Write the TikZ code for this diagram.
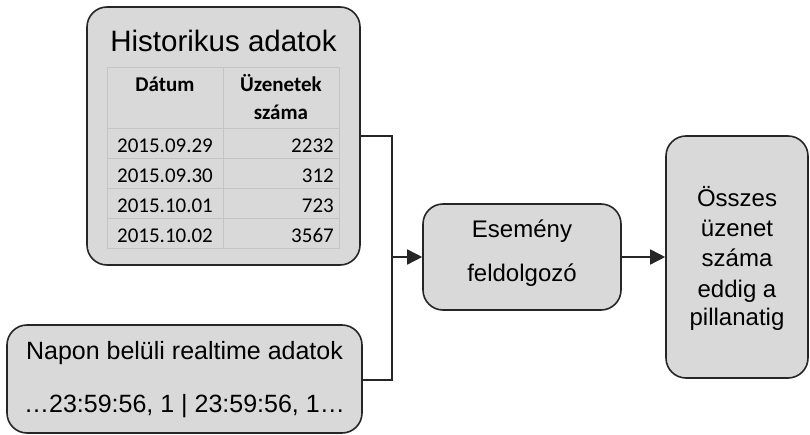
\documentclass[tikz,border=0pt]{standalone}
\usepackage{fontspec}
\setmainfont{Liberation Sans}
\newfontfamily\tablefont{Carlito}
\usetikzlibrary{arrows.meta}
\definecolor{boxfill}{HTML}{D9D9D9}
\definecolor{boxline}{HTML}{262626}
\definecolor{gridline}{HTML}{C4C4C4}
\tikzset{
  x=1pt, y=-1pt,
  panel/.style={draw=boxline, fill=boxfill, line width=1.6pt, rounded corners=20pt},
  cell/.style={draw=gridline, line width=1pt},
  label/.style={anchor=base, inner sep=0pt, font=\fontsize{24}{28}\selectfont},
  tabtext/.style={anchor=base, inner sep=0pt, font=\tablefont\fontsize{21}{25}\selectfont},
  tabhead/.style={tabtext, font=\tablefont\bfseries\fontsize{21}{25}\selectfont},
  link/.style={draw=boxline, line width=1.6pt},
  flow/.style={link, -{Triangle[length=15pt,width=15pt]}},
}
\begin{document}
\begin{tikzpicture}
\useasboundingbox (0,0) rectangle (810,435);

% --- boxes ---
\node[panel, minimum width=273pt, minimum height=258pt] (hist) at (223.5,136) {};
\node[panel, minimum width=355pt, minimum height=108pt] (rt) at (184.5,379) {};
\node[panel, minimum width=198pt, minimum height=106pt] (proc) at (522,257) {};
\node[panel, minimum width=142pt, minimum height=242pt] (total) at (737,257) {};

% --- historical data table ---
\foreach \ya/\yb in {68/129,129/159,159/189,189/219,219/249}{
  \draw[cell] (107,\ya) rectangle (223,\yb);
  \draw[cell] (223,\ya) rectangle (339,\yb);
}
\node[label, font=\fontsize{29.5}{34}\selectfont] (htitle) at (223.5,52) {Historikus adatok};
\node[tabhead] (hdate) at (165,92) {Dátum};
\node[tabhead] (hcnt1) at (281,92) {Üzenetek};
\node[tabhead] (hcnt2) at (281,120) {száma};
\foreach \d/\n/\y in {2015.09.29/2232/153, 2015.09.30/312/183, 2015.10.01/723/213, 2015.10.02/3567/243}{
  \node[tabtext] at (165,\y) {\d};
  \node[tabtext, anchor=base east] at (334,\y) {\n};
}

% --- realtime stream ---
\node[label, font=\fontsize{25}{30}\selectfont] (rttitle) at (184.5,359) {Napon belüli realtime adatok};
\node[label, font=\fontsize{25}{30}\selectfont] (rtstream) at (184.5,412) {…23:59:56, 1 | 23:59:56, 1…};

% --- processor and result texts ---
\node[label] (proc1) at (522,238) {Esemény};
\node[label] (proc2) at (522,282) {feldolgozó};
\node[label] (tot1) at (737,207) {Összes};
\node[label] (tot2) at (737,237) {üzenet};
\node[label] (tot3) at (737,267) {száma};
\node[label] (tot4) at (737,297) {eddig a};
\node[label] (tot5) at (737,325) {pillanatig};

% --- connectors ---
\coordinate (join) at (392,257);
\draw[link] (hist.east |- 0,136) -- (392,136) -- (392,380) -- (rt.east |- 0,380);
\draw[flow] (join) -- (proc.west);
\draw[flow] (proc.east) -- (total.west);
\end{tikzpicture}
\end{document}
